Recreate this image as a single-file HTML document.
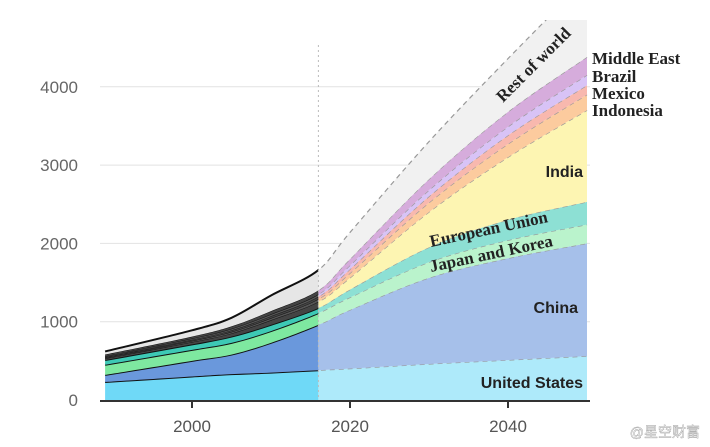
<!DOCTYPE html>
<html><head><meta charset="utf-8"><style>
body{margin:0;background:#fff;width:710px;height:447px;overflow:hidden}
svg{display:block}
</style></head><body>
<svg id="chart" width="710" height="447"></svg>
<script>
const years=[1989,2000,2005,2010,2016,2020,2030,2040,2050];
const seriesNames=["United States","China","Japan and Korea","European Union","India","Indonesia","Mexico","Brazil","Middle East","Rest of world"];
const usVals=[230,300,330,350,380,400,460,510,560];
const chinaVals=[90,200,250,380,580,750,1100,1300,1440];
const jkVals=[130,140,150,150,150,160,200,230,240];
const euVals=[60,70,80,80,65,100,190,260,290];
const indiaVals=[20,30,40,60,80,150,450,800,1170];
const indonesiaVals=[10,15,20,25,35,60,120,170,200];
const mexicoVals=[10,15,20,25,30,50,80,110,120];
const brazilVals=[10,15,20,25,30,50,80,110,130];
const meVals=[20,25,30,40,50,80,140,190,230];
const rowVals=[40,80,110,200,260,340,480,680,1000];
const yTicks=[0,1000,2000,3000,4000];
const xTicks=[2000,2020,2040];
const splitYear=2016;

const histColors=["#6fd9f7","#6a98dc","#7ee8a0","#3dc9b5","#444","#555","#444","#555","#444","#e6e6e6"];
const projColors=["#aeeafa","#a6c0ea","#baf3cc","#8de0d4","#fdf5b2","#fccb9e","#f8b8ae","#d8c3f6","#d6acdc","#f1f1f1"];
const all=[usVals,chinaVals,jkVals,euVals,indiaVals,indonesiaVals,mexicoVals,brazilVals,meVals,rowVals];

const X=y=>192+(y-2000)*7.9;
const Y=v=>400-v*0.0783;
const NS="http://www.w3.org/2000/svg";
const svg=document.getElementById('chart');
function mk(t,a,p){const e=document.createElementNS(NS,t);for(const k in a)e.setAttribute(k,a[k]);(p||svg).appendChild(e);return e;}

const defs=mk('defs',{});
const cp=mk('clipPath',{id:'plotclip'},defs);
mk('rect',{x:100,y:20,width:490,height:380},cp);
const cpH=mk('clipPath',{id:'histclip'},defs);
mk('rect',{x:100,y:20,width:X(splitYear)-100,height:380},cpH);
const cpP=mk('clipPath',{id:'projclip'},defs);
mk('rect',{x:X(splitYear),y:20,width:590-X(splitYear),height:380},cpP);

yTicks.forEach(t=>{
  if(t>0){const g=mk('line',{x1:100,x2:590,y1:Y(t),y2:Y(t),stroke:'#e2e2e2','stroke-width':1});
  
  }
  const tx=mk('text',{x:78,y:Y(t)+6,'text-anchor':'end','font-family':'Liberation Sans, sans-serif','font-size':17,fill:'#666'});
  tx.textContent=t;
  
  
});

const cum=[];let base=years.map(()=>0);
all.forEach((s,i)=>{const top=base.map((b,j)=>b+s[j]);cum.push([base,top]);base=top;});

function pts(hi){return years.map((y,j)=>[X(y),Y(hi[j])]);}
function smooth(p,move){
  let d=(move?'M':'L')+p[0][0]+','+p[0][1];
  for(let i=0;i<p.length-1;i++){
    const p0=p[i-1]||p[i],p1=p[i],p2=p[i+1],p3=p[i+2]||p2;
    const c1=[p1[0]+(p2[0]-p0[0])/6,p1[1]+(p2[1]-p0[1])/6];
    const c2=[p2[0]-(p3[0]-p1[0])/6,p2[1]-(p3[1]-p1[1])/6];
    d+='C'+c1+' '+c2+' '+p2;
  }
  return d;
}
function areaPath(lo,hi){
  return smooth(pts(hi),true)+smooth(pts(lo).reverse(),false)+'Z';
}
function linePath(hi){return smooth(pts(hi),true);}

const gH=mk('g',{'clip-path':'url(#histclip)'});
const gP=mk('g',{'clip-path':'url(#projclip)'});
cum.forEach(([lo,hi],i)=>{
  const a=mk('path',{d:areaPath(lo,hi),fill:histColors[i]},gH);
  
  
  const l=mk('path',{d:linePath(hi),fill:'none',stroke:'#111','stroke-width':i>=4&&i<9?1:2},gH);
  
  
  const b=mk('path',{d:areaPath(lo,hi),fill:projColors[i]},gP);
  
  
  const m=mk('path',{d:linePath(hi),fill:'none',stroke:'#999','stroke-width':1.2,'stroke-dasharray':'5,4'},gP);
  
  
});

const dv=mk('line',{x1:X(splitYear),x2:X(splitYear),y1:45,y2:400,stroke:'#bbb','stroke-width':1,'stroke-dasharray':'2,3'});



const ax=mk('line',{x1:100,x2:590,y1:401,y2:401,stroke:'#333','stroke-width':2});


xTicks.forEach(t=>{
  const tk=mk('line',{x1:X(t),x2:X(t),y1:401,y2:408,stroke:'#333','stroke-width':2});
  
  
  const tx=mk('text',{x:X(t),y:432,'text-anchor':'middle','font-family':'Liberation Sans, sans-serif','font-size':17,fill:'#555'});
  tx.textContent=t;
  
  
});

function label(txt,x,y,opts,name){
  const t=mk('text',Object.assign({x:x,y:y,fill:'#222'},opts));
  t.textContent=txt;
  
  
}
const sans={'font-family':'Liberation Sans, sans-serif','font-size':16,'font-weight':'bold','text-anchor':'end'};
const serif={'font-family':'Liberation Serif, serif','font-size':17,'font-weight':'bold'};
label('United States',583,388,sans,'label-united-states');
label('China',578,313,sans,'label-china');
label('India',583,177,sans,'label-india');
label('Japan and Korea',431,272,Object.assign({transform:'rotate(-12 431 272)'},serif),'label-japan-korea');
label('European Union',431,247,Object.assign({transform:'rotate(-12 431 247)'},serif),'label-european-union');
label('Rest of world',503,103,Object.assign({transform:'rotate(-45 503 103)'},serif),'label-rest-of-world');
label('Middle East',592,64,serif,'label-middle-east');
label('Brazil',592,82,serif,'label-brazil');
label('Mexico',592,99,serif,'label-mexico');
label('Indonesia',592,116,serif,'label-indonesia');
const wm=mk('text',{x:700,y:437,'text-anchor':'end','font-family':'Liberation Sans, Noto Sans CJK SC, sans-serif','font-size':14,fill:'#fff',stroke:'#999','stroke-width':0.4});
wm.textContent='@星空财富';


</script>
</body></html>
